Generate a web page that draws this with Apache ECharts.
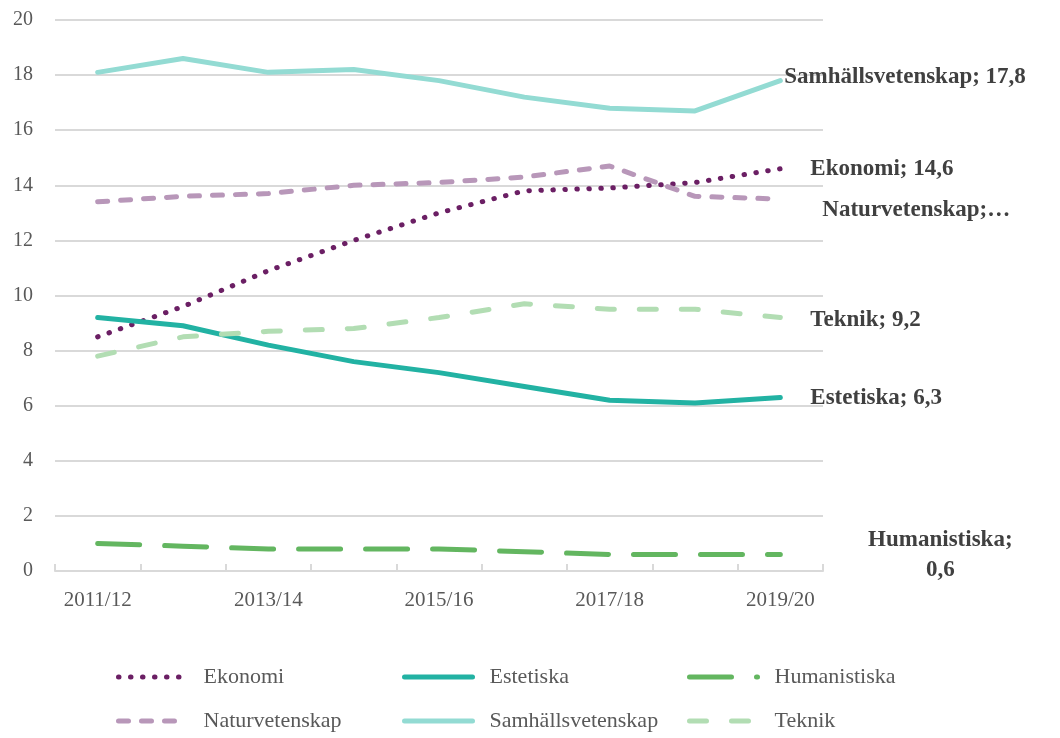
<!DOCTYPE html>
<html>
<head>
<meta charset="utf-8">
<script src="https://cdn.jsdelivr.net/npm/echarts@6/dist/echarts.min.js"></script>
<style>
  html, body { margin: 0; padding: 0; background: #fff; }
  #main { width: 1060px; height: 738px; }
</style>
</head>
<body>
<div id="main"></div>
<script>
const years = ['2011/12', '2012/13', '2013/14', '2014/15', '2015/16', '2016/17', '2017/18', '2018/19', '2019/20'];

const ekonomi = [8.5, 9.6, 10.9, 12.0, 13.0, 13.8, 13.9, 14.1, 14.6];
const estetiska = [9.2, 8.9, 8.2, 7.6, 7.2, 6.7, 6.2, 6.1, 6.3];
const humanistiska = [1.0, 0.9, 0.8, 0.8, 0.8, 0.7, 0.6, 0.6, 0.6];
const naturvetenskap = [13.4, 13.6, 13.7, 14.0, 14.1, 14.3, 14.7, 13.6, 13.5];
const samhallsvetenskap = [18.1, 18.6, 18.1, 18.2, 17.8, 17.2, 16.8, 16.7, 17.8];
const teknik = [7.8, 8.5, 8.7, 8.8, 9.2, 9.7, 9.5, 9.5, 9.2];

const yTicks = [0, 2, 4, 6, 8, 10, 12, 14, 16, 18, 20];

const chart = echarts.init(document.getElementById('main'), null, { renderer: 'canvas' });

const font = '"Liberation Serif", "DejaVu Serif", serif';
const labelColor = '#404040';

function comma(v) {
  return String(v).replace('.', ',');
}

function mkSeries(name, data, color, dash, labelText, offset, align) {
  return {
    name: name,
    type: 'line',
    data: data,
    symbol: 'none',
    z: 3,
    lineStyle: { color: color, width: 5, type: dash, cap: 'round', join: 'round' },
    itemStyle: { color: color },
    endLabel: {
      show: true,
      formatter: labelText,
      offset: offset,
      align: align || 'left',
      color: labelColor,
      fontFamily: font,
      fontWeight: 'bold',
      fontSize: 23,
      lineHeight: 30
    }
  };
}

const legendText = { color: '#595959', fontFamily: font, fontSize: 22, padding: [0, 0, 0, 12] };
function mkLegend(name, left, top) {
  return {
    data: [name],
    left: left,
    top: top,
    itemWidth: 68,
    itemHeight: 14,
    itemGap: 0,
    textStyle: legendText,
    itemStyle: { opacity: 0 },
    lineStyle: { width: 5 },
    padding: 0
  };
}

var option = {
  animation: false,
  backgroundColor: '#fff',
  grid: { left: 55, right: 237, top: 20, bottom: 167 },
  legend: [
    mkLegend('Ekonomi', 116, 666),
    mkLegend('Estetiska', 402, 666),
    mkLegend('Humanistiska', 687, 666),
    mkLegend('Naturvetenskap', 116, 710),
    mkLegend('Samhällsvetenskap', 402, 710),
    mkLegend('Teknik', 687, 710)
  ],
  xAxis: {
    type: 'category',
    data: years,
    boundaryGap: true,
    axisLine: { lineStyle: { color: '#d9d9d9', width: 2 } },
    axisTick: { show: true, inside: true, length: 7, interval: 0, lineStyle: { color: '#d9d9d9', width: 2 } },
    axisLabel: { interval: 1, color: '#595959', fontFamily: font, fontSize: 21, margin: 19 }
  },
  yAxis: {
    type: 'value',
    min: yTicks[0],
    max: yTicks[yTicks.length - 1],
    interval: 2,
    axisLine: { show: false },
    axisTick: { show: false },
    axisLabel: { color: '#595959', fontFamily: font, fontSize: 20, margin: 22 },
    splitLine: { lineStyle: { color: '#d9d9d9', width: 2 } }
  },
  series: [
    mkSeries('Ekonomi', ekonomi, '#6b1f64', [0.5, 11.5],
      'Ekonomi; ' + comma(ekonomi[8]), [22, 0]),
    mkSeries('Estetiska', estetiska, '#22b2a3', 'solid',
      'Estetiska; ' + comma(estetiska[8]), [22, 1]),
    mkSeries('Humanistiska', humanistiska, '#63b660', [42, 25],
      'Humanistiska;\n' + comma(humanistiska[8]), [152, 1], 'center'),
    mkSeries('Naturvetenskap', naturvetenskap, '#b897b9', [10, 13],
      'Naturvetenskap;…', [34, 11]),
    mkSeries('Samhällsvetenskap', samhallsvetenskap, '#93dbd3', 'solid',
      'Samhällsvetenskap; ' + comma(samhallsvetenskap[8]), [-4, -4]),
    mkSeries('Teknik', teknik, '#b2ddb3', [17, 25],
      'Teknik; ' + comma(teknik[8]), [22, 3])
  ]
};

chart.setOption(option);
</script>
</body>
</html>
